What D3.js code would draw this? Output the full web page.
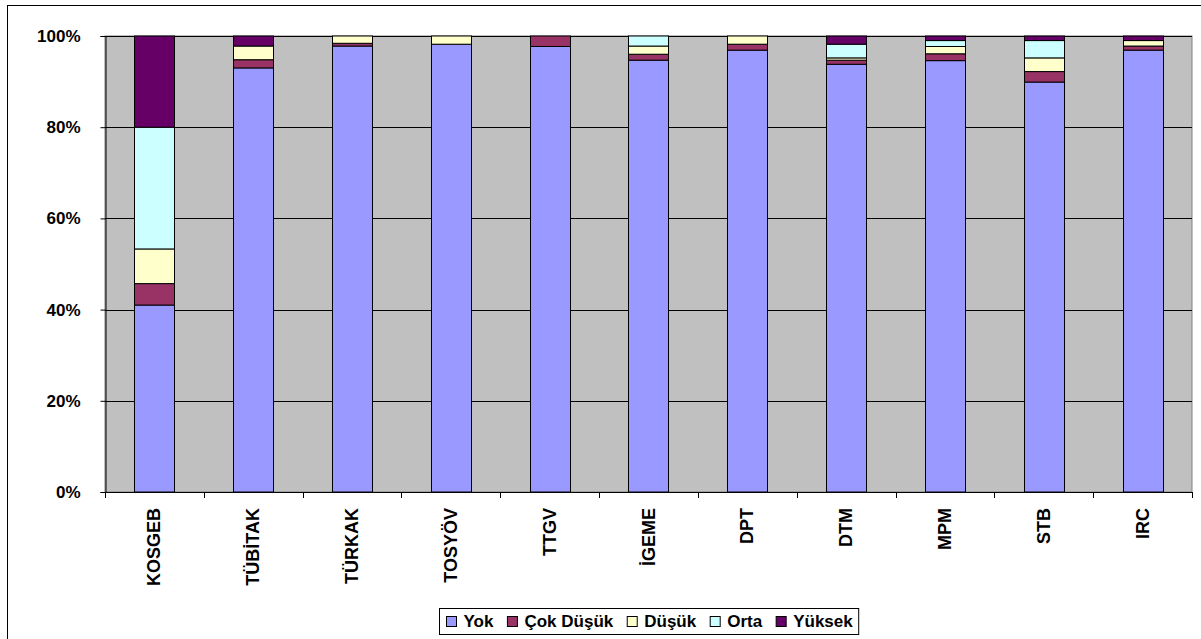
<!DOCTYPE html>
<html>
<head>
<meta charset="utf-8">
<script src="https://cdn.jsdelivr.net/npm/d3@7"></script>
<style>
  html, body { margin: 0; padding: 0; background: #fff; }
  svg { display: block; font-family: "Liberation Sans", Arial, sans-serif; }
</style>
</head>
<body>
<svg id="chart" width="1201" height="639"></svg>
<script>
// ---- data ----
const categories = ["KOSGEB", "TÜBİTAK", "TÜRKAK", "TOSYÖV", "TTGV", "İGEME", "DPT", "DTM", "MPM", "STB", "IRC"];
const seriesNames = ["Yok", "Çok Düşük", "Düşük", "Orta", "Yüksek"];
const yok       = [41.0, 93.0, 97.8, 98.2, 97.7, 94.7, 96.9, 93.8, 94.6, 89.9, 96.9];
const cokDusuk  = [4.7, 1.8, 0.6, 0.0, 2.3, 1.3, 1.3, 0.9, 1.5, 2.3, 0.9];
const dusuk     = [7.6, 3.0, 1.6, 1.8, 0.0, 1.8, 1.8, 0.5, 1.6, 3.0, 1.2];
const orta      = [26.7, 0.0, 0.0, 0.0, 0.0, 2.2, 0.0, 3.0, 1.3, 3.8, 0.0];
const yuksek    = [20.0, 2.2, 0.0, 0.0, 0.0, 0.0, 0.0, 1.8, 1.0, 1.0, 1.0];
const yTicks = [0, 0.2, 0.4, 0.6, 0.8, 1.0];
const colors = ["#9999FF", "#993366", "#FFFFCC", "#CCFFFF", "#660066"];

const seriesValues = [yok, cokDusuk, dusuk, orta, yuksek];
const rows = categories.map((c, i) => {
  const r = { cat: c };
  seriesNames.forEach((s, j) => r[s] = seriesValues[j][i]);
  return r;
});

// ---- layout ----
const svg = d3.select("#chart");
const W = 1201, H = 639;
const plot = { left: 105, right: 1192, top: 36, bottom: 492 };

svg.append("rect").attr("width", W).attr("height", H).attr("fill", "#fff");
// outer chart border
svg.append("rect").attr("x", 7.5).attr("y", 5.5).attr("width", 1200).attr("height", 640)
  .attr("fill", "none").attr("stroke", "#000").attr("stroke-width", 1);

const x = d3.scaleBand().domain(categories).range([plot.left, plot.right])
  .paddingInner(0.595).paddingOuter(0.2975);
const y = d3.scaleLinear().domain([0, 1]).range([plot.bottom, plot.top]);

// plot area
svg.append("rect").attr("x", plot.left).attr("y", plot.top)
  .attr("width", plot.right - plot.left).attr("height", plot.bottom - plot.top)
  .attr("fill", "#C0C0C0").attr("stroke", "#808080").attr("stroke-width", 1);

// gridlines
svg.append("g").selectAll("line").data(yTicks.filter(t => t > 0)).join("line")
  .attr("x1", plot.left).attr("x2", plot.right)
  .attr("y1", d => Math.round(y(d)) + 0.5).attr("y2", d => Math.round(y(d)) + 0.5)
  .attr("stroke", "#000").attr("stroke-width", 1);

// stacked bars
const stack = d3.stack().keys(seriesNames).offset(d3.stackOffsetExpand);
const stacked = stack(rows);
svg.append("g").selectAll("g").data(stacked).join("g")
  .attr("fill", (d, i) => colors[i])
  .selectAll("rect").data(d => d.filter(p => p[1] - p[0] > 1e-6)).join("rect")
  .attr("x", d => Math.round(x(d.data.cat)) + 0.5)
  .attr("width", Math.round(x.bandwidth()))
  .attr("y", d => y(d[1]))
  .attr("height", d => y(d[0]) - y(d[1]))
  .attr("stroke", "#000").attr("stroke-width", 1);

// y axis
const yAxis = d3.axisLeft(y).tickValues(yTicks).tickFormat(d3.format(".0%"))
  .tickSize(5).tickPadding(20);
const gy = svg.append("g").attr("transform", `translate(${plot.left + 0.5},0)`).call(yAxis);
gy.select(".domain").attr("stroke", "#000");
gy.selectAll(".tick line").attr("stroke", "#000");
gy.selectAll(".tick text").attr("font-size", 17).attr("font-weight", "bold")
  .attr("fill", "#000").attr("font-family", "'Liberation Sans', Arial, sans-serif");

// x axis
const gx = svg.append("g");
gx.append("line").attr("x1", plot.left).attr("x2", plot.right)
  .attr("y1", plot.bottom + 0.5).attr("y2", plot.bottom + 0.5).attr("stroke", "#000");
const step = x.step();
const bounds = d3.range(categories.length + 1).map(i => plot.left + i * step);
gx.selectAll("line.tk").data(bounds).join("line").attr("class", "tk")
  .attr("x1", d => Math.round(d) + 0.5).attr("x2", d => Math.round(d) + 0.5)
  .attr("y1", plot.bottom).attr("y2", plot.bottom + 6).attr("stroke", "#000");
gx.selectAll("text").data(categories).join("text")
  .attr("transform", d => `translate(${x(d) + x.bandwidth() / 2},${plot.bottom + 16}) rotate(-90)`)
  .attr("text-anchor", "end").attr("dominant-baseline", "central")
  .attr("font-size", 18).attr("font-weight", "bold").attr("fill", "#000")
  .text(d => d);

// legend
const lg = svg.append("g");
const items = lg.selectAll("g").data(seriesNames).join("g");
items.append("rect").attr("width", 10).attr("height", 10)
  .attr("fill", (d, i) => colors[i]).attr("stroke", "#000").attr("stroke-width", 1);
const texts = items.append("text").attr("font-size", 17).attr("font-weight", "bold")
  .attr("fill", "#000").attr("dominant-baseline", "central").attr("y", 5).attr("x", 17)
  .text(d => d);
let cx = 0;
const offs = [];
texts.each(function () {
  offs.push(cx);
  cx += 17 + this.getComputedTextLength() + 14;
});
const totalW = cx - 14;
const padL = 7, padR = 6;
const boxW = totalW + padL + padR;
const boxX = Math.round((plot.left + plot.right) / 2 - boxW / 2);
const boxY = 608;
lg.insert("rect", ":first-child").attr("x", boxX + 0.5).attr("y", boxY + 0.5)
  .attr("width", boxW).attr("height", 26)
  .attr("fill", "#fff").attr("stroke", "#000").attr("stroke-width", 1);
items.attr("transform", (d, i) => `translate(${boxX + padL + offs[i] + 0.5},${boxY + 8.5})`);
</script>
</body>
</html>
